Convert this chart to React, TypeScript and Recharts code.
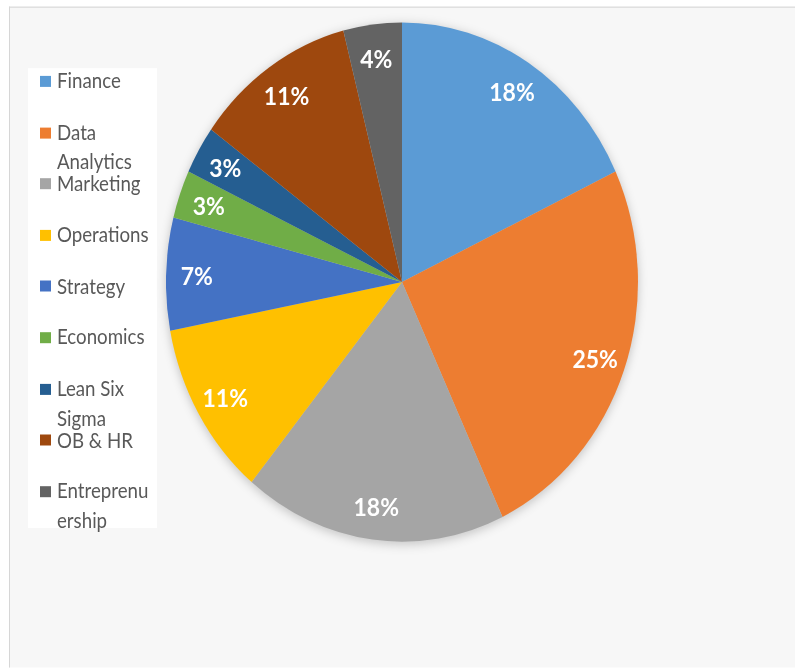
import { PieChart, Pie, Cell } from 'recharts';

// Share of projects by area (percent)
const areas: string[] = [
  'Finance',
  'Data Analytics',
  'Marketing',
  'Operations',
  'Strategy',
  'Economics',
  'Lean Six Sigma',
  'OB & HR',
  'Entrepreneurship',
];
const shares: number[] = [18, 25, 18, 11, 7, 3, 3, 11, 4];
const colors: string[] = [
  '#5B9BD5',
  '#ED7D31',
  '#A5A5A5',
  '#FFC000',
  '#4472C4',
  '#70AD47',
  '#255E91',
  '#9E480E',
  '#636363',
];
// how the legend box wraps each name
const legendLines: string[][] = [
  ['Finance'],
  ['Data', 'Analytics'],
  ['Marketing'],
  ['Operations'],
  ['Strategy'],
  ['Economics'],
  ['Lean Six', 'Sigma'],
  ['OB & HR'],
  ['Entreprenu', 'ership'],
];

interface Slice {
  name: string;
  value: number;
}

const data: Slice[] = areas.map((name, i) => ({ name, value: shares[i] }));

const RADIAN = Math.PI / 180;
const FONT = 'Lato, "Open Sans", sans-serif';
const STRETCH = 1.1;
const W = 795;
const H = 668 / STRETCH;

interface LabelProps {
  cx: number;
  cy: number;
  midAngle: number;
  outerRadius: number;
  value: number;
}

const renderLabel = ({ cx, cy, midAngle, outerRadius, value }: LabelProps) => {
  const r = outerRadius * 0.87;
  const x = cx + r * Math.cos(-midAngle * RADIAN);
  const y = cy + r * Math.sin(-midAngle * RADIAN);
  return (
    <text
      x={x}
      y={y}
      fill="#fff"
      textAnchor="middle"
      dominantBaseline="central"
      fontFamily={FONT}
      fontWeight={700}
      fontSize={23}
    >
      {`${value}%`}
    </text>
  );
};

export default function App() {
  return (
    <div
      style={{
        position: 'fixed',
        left: 0,
        top: 0,
        width: W,
        height: H,
        background: '#fff',
        transform: `scaleY(${STRETCH})`,
        transformOrigin: '0 0',
        overflow: 'hidden',
      }}
    >
      <style>{`.recharts-pie { filter: drop-shadow(0 2px 5px rgba(0,0,0,0.22)); }`}</style>
      <div
        style={{
          position: 'absolute',
          left: 9,
          top: 6.4,
          right: 0,
          bottom: 0,
          background: '#f7f7f7',
          borderTop: '1px solid #d6d6d6',
          borderLeft: '1px solid #d6d6d6',
        }}
      />
      <div
        style={{
          position: 'absolute',
          left: 28,
          top: 62,
          width: 129,
          height: 418,
          background: '#fff',
          fontFamily: FONT,
          fontSize: 18.7,
          color: '#595959',
        }}
      >
        {data.map((d, i) => (
          <div
            key={d.name}
            style={{ position: 'absolute', left: 12, top: -1.6 + i * 46.6, lineHeight: '26.5px' }}
          >
            <span
              style={{
                position: 'absolute',
                left: 0,
                top: 8.5,
                width: 11,
                height: 10,
                background: colors[i],
              }}
            />
            {legendLines[i].map((line) => (
              <div key={line} style={{ paddingLeft: 17, whiteSpace: 'nowrap' }}>
                {line}
              </div>
            ))}
          </div>
        ))}
      </div>
      <div style={{ position: 'absolute', left: 0, top: 0 }}>
        <PieChart width={W} height={H} margin={{ top: 0, right: 0, bottom: 0, left: 0 }}>
          <Pie
            data={data}
            dataKey="value"
            nameKey="name"
            cx={402}
            cy={256.4}
            outerRadius={236}
            startAngle={90}
            endAngle={-270}
            stroke="none"
            label={renderLabel}
            labelLine={false}
            isAnimationActive={false}
          >
            {data.map((d, i) => (
              <Cell key={d.name} fill={colors[i]} />
            ))}
          </Pie>
        </PieChart>
      </div>
    </div>
  );
}
